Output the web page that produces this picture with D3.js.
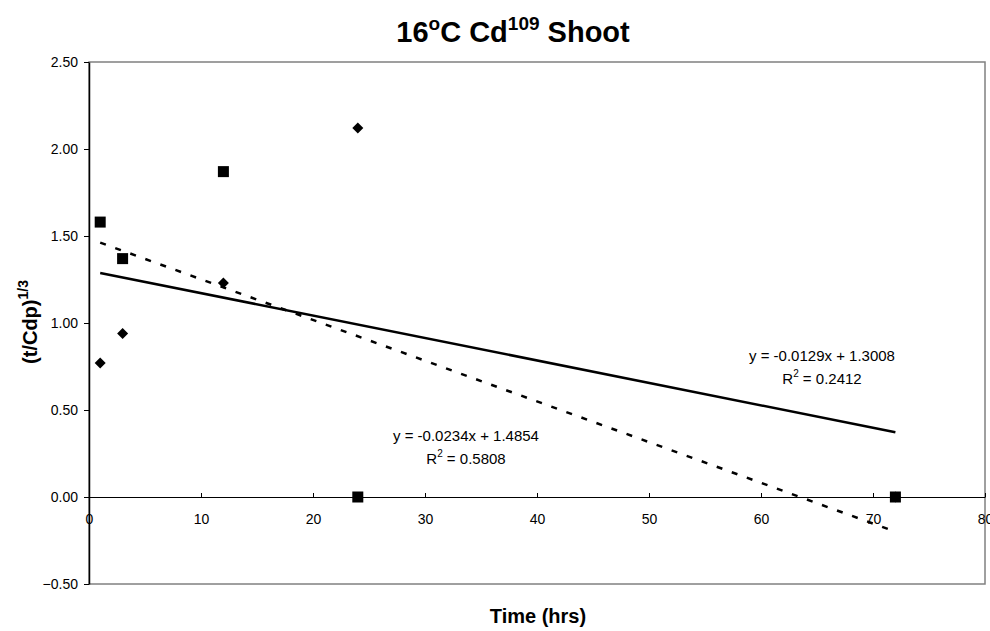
<!DOCTYPE html>
<html>
<head>
<meta charset="utf-8">
<script src="https://cdn.jsdelivr.net/npm/d3@7"></script>
<style>
body { margin: 0; background: #fff; }
text { font-family: "Liberation Sans", Arial, sans-serif; }
</style>
</head>
<body>
<svg id="chart" width="990" height="631"></svg>
<script>
// hours sampled
var hours = [1, 3, 12, 24, 72];
// diamond series (last point sits under the square at 72)
var diamondVals = [0.77, 0.94, 1.23, 2.12, 0.00];
// square series
var squareVals = [1.58, 1.37, 1.87, 0.00, 0.00];
var xTicks = [0, 10, 20, 30, 40, 50, 60, 70, 80];
var yTicks = [-0.5, 0, 0.5, 1, 1.5, 2, 2.5];
// trendlines: [slope, intercept, r2]
var fitDiamond = [-0.0129, 1.3008, 0.2412];
var fitSquare = [-0.0234, 1.4854, 0.5808];

var svg = d3.select("#chart"),
    pLeft = 89, pRight = 985, pTop = 62, pBottom = 584;

var x = d3.scaleLinear().domain([0, 80]).range([pLeft, pRight]);
var y = d3.scaleLinear().domain([-0.5, 2.5]).range([pBottom, pTop]);

// plot frame
svg.append("rect")
   .attr("x", pLeft).attr("y", pTop)
   .attr("width", pRight - pLeft).attr("height", pBottom - pTop)
   .attr("fill", "none").attr("stroke", "#808080").attr("stroke-width", 1.5);

// y axis
var yAxis = svg.append("g")
   .attr("transform", "translate(" + pLeft + ",0)")
   .call(d3.axisLeft(y).tickValues(yTicks).tickSizeInner(5).tickSizeOuter(0).tickFormat(d3.format(".2f")));
yAxis.select(".domain").attr("stroke", "#000").attr("stroke-width", 1.5);
yAxis.selectAll("text").attr("font-size", "14px").attr("fill", "#000").attr("dx", "-3");

// x axis along zero
var xAxis = svg.append("g")
   .attr("transform", "translate(0," + y(0) + ")")
   .call(d3.axisTop(x).tickValues(xTicks).tickSizeInner(4).tickSizeOuter(0).tickFormat(d3.format("d")));
xAxis.select(".domain").attr("stroke", "#000").attr("stroke-width", 1.2);
xAxis.selectAll("text")
     .attr("font-size", "14px").attr("fill", "#000")
     .attr("y", 27).attr("dy", "0");

// trendlines
function trend(fit, dash) {
    var pts = [hours[0], hours[hours.length - 1]].map(function(h) { return [x(h), y(fit[0] * h + fit[1])]; });
    svg.append("line")
       .attr("x1", pts[0][0]).attr("y1", pts[0][1])
       .attr("x2", pts[1][0]).attr("y2", pts[1][1])
       .attr("stroke", "#000").attr("stroke-width", 2.5)
       .attr("stroke-dasharray", dash);
}
trend(fitDiamond, null);
trend(fitSquare, "6,10");

// diamonds
svg.selectAll(".dia")
   .data(hours.map(function(h, i) { return [h, diamondVals[i]]; }))
   .enter().append("path")
   .attr("class", "dia")
   .attr("d", "M0,-5.5L5.5,0L0,5.5L-5.5,0Z")
   .attr("transform", function(d) { return "translate(" + x(d[0]) + "," + y(d[1]) + ")"; })
   .attr("fill", "#000");

// squares
svg.selectAll(".sq")
   .data(hours.map(function(h, i) { return [h, squareVals[i]]; }))
   .enter().append("rect")
   .attr("class", "sq")
   .attr("x", function(d) { return x(d[0]) - 5.5; })
   .attr("y", function(d) { return y(d[1]) - 5.5; })
   .attr("width", 11).attr("height", 11)
   .attr("fill", "#000");

// equation labels
function eqLabel(fit, cx, cy) {
    svg.append("text").attr("x", cx).attr("y", cy)
       .attr("text-anchor", "middle").attr("font-size", "15px")
       .text("y = " + fit[0].toFixed(4) + "x + " + fit[1].toFixed(4));
    var r = svg.append("text").attr("x", cx).attr("y", cy + 23)
       .attr("text-anchor", "middle").attr("font-size", "15px");
    r.append("tspan").text("R");
    r.append("tspan").attr("font-size", "10px").attr("dy", "-7").text("2");
    r.append("tspan").attr("dy", "7").text(" = " + fit[2].toFixed(4));
}
eqLabel(fitDiamond, 822, 361);
eqLabel(fitSquare, 466, 441);

// title
var title = svg.append("text")
   .attr("x", 513).attr("y", 42)
   .attr("text-anchor", "middle")
   .attr("font-size", "29px").attr("font-weight", "bold");
title.append("tspan").text("16");
title.append("tspan").attr("font-size", "19px").attr("dy", "-12").text("o");
title.append("tspan").attr("dy", "12").text("C Cd");
title.append("tspan").attr("font-size", "19px").attr("dy", "-12").text("109");
title.append("tspan").attr("dy", "12").text(" Shoot");

// axis titles
svg.append("text")
   .attr("x", 538).attr("y", 623)
   .attr("text-anchor", "middle")
   .attr("font-size", "20px").attr("font-weight", "bold")
   .text("Time (hrs)");

var yt = svg.append("text")
   .attr("transform", "translate(37," + 322 + ") rotate(-90)")
   .attr("text-anchor", "middle")
   .attr("font-size", "20px").attr("font-weight", "bold");
yt.append("tspan").text("(t/Cdp)");
yt.append("tspan").attr("font-size", "14px").attr("dy", "-9").text("1/3");
</script>
</body>
</html>
